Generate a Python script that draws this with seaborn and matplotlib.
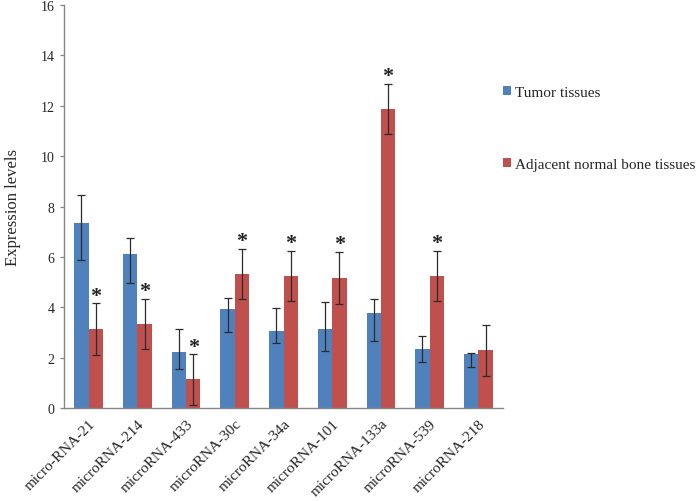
import matplotlib
matplotlib.use("Agg")
import matplotlib.pyplot as plt
import numpy as np
import pandas as pd
import seaborn as sns
from matplotlib.patches import Patch


# ---------------------------------------------------------
# Data
# ---------------------------------------------------------

categories = ["micro-RNA-21", "microRNA-214", "microRNA-433", "microRNA-30c",
              "microRNA-34a", "microRNA-101", "microRNA-133a", "microRNA-539",
              "microRNA-218"]

groups = ["Tumor tissues", "Adjacent normal bone tissues"]

tumor = [7.35, 6.11, 2.24, 3.93, 3.08, 3.16, 3.78, 2.34, 2.17]
tumor_err_low = [1.48, 1.12, 0.67, 0.92, 0.49, 0.88, 1.11, 0.52, 0.55]
tumor_err_up = [1.13, 0.65, 0.89, 0.45, 0.88, 1.06, 0.54, 0.54, 0.03]

normal = [3.14, 3.35, 1.15, 5.33, 5.24, 5.17, 11.88, 5.24, 2.30]
normal_err = [1.02, 1.00, 1.00, 1.00, 1.00, 1.04, 1.00, 1.00, 1.02]

significant = [True, True, True, True, True, True, True, True, False]

colors = {"Tumor tissues": "#4F81BD", "Adjacent normal bone tissues": "#C0504D"}
axis_grey = "#868686"


# ---------------------------------------------------------
# Plot
# ---------------------------------------------------------

def main():

    sns.set_style("white")
    plt.rcParams["font.family"] = ["Liberation Serif", "DejaVu Serif"]

    df = pd.DataFrame({
        "miRNA": categories * 2,
        "group": [groups[0]] * len(categories) + [groups[1]] * len(categories),
        "value": tumor + normal,
    })

    fig = plt.figure(figsize=(6.96, 5.02), dpi=100)
    ax = fig.add_axes([0.0924, 0.1847, 0.6299, 0.8033])

    sns.barplot(
        data=df,
        x="miRNA",
        y="value",
        hue="group",
        order=categories,
        hue_order=groups,
        palette=colors,
        saturation=1,
        width=0.59,
        errorbar=None,
        linewidth=0,
        legend=False,
        ax=ax,
    )

    # bar centres from the patches seaborn drew
    n = len(categories)
    bars = [p for p in ax.patches if p.get_height() > 0]
    bars = sorted(bars, key=lambda p: p.get_x())
    tumor_x = [b.get_x() + b.get_width() / 2 for b in bars[0::2]]
    normal_x = [b.get_x() + b.get_width() / 2 for b in bars[1::2]]

    ax.errorbar(tumor_x, tumor, yerr=[tumor_err_low, tumor_err_up],
                fmt="none", ecolor="#2b2b2b", elinewidth=0.9,
                capsize=3, capthick=0.9, zorder=5)
    ax.errorbar(normal_x, normal, yerr=normal_err,
                fmt="none", ecolor="#2b2b2b", elinewidth=0.9,
                capsize=3, capthick=0.9, zorder=5)

    for x, y, e, sig in zip(normal_x, normal, normal_err, significant):
        if sig:
            ax.text(x, y + e + 0.3, "*", ha="center", va="center",
                    fontsize=16, fontweight="bold", color="#222222")

    # axes styling
    ax.set_xlim(-0.5, n - 0.5)
    ax.set_ylim(0, 16)
    ax.set_yticks(np.arange(0, 17, 2))
    ax.set_yticklabels([str(v) for v in range(0, 17, 2)], fontsize=10)

    ax.set_xticks(range(n))
    ax.set_xticklabels(categories, rotation=45, ha="right",
                       rotation_mode="anchor", fontsize=11)
    ax.set_xticks(np.arange(-0.5, n, 1), minor=True)
    ax.tick_params(axis="x", which="major", length=0, pad=6)
    ax.tick_params(axis="x", which="minor", length=4, width=0.9,
                   color=axis_grey, direction="out")
    ax.tick_params(axis="y", length=3, width=0.9, color=axis_grey,
                   direction="out", pad=4, left=True)

    ax.set_xlabel("")
    ax.set_ylabel("Expression levels", fontsize=12, labelpad=14)

    for side in ["top", "right"]:
        ax.spines[side].set_visible(False)
    for side in ["left", "bottom"]:
        ax.spines[side].set_color(axis_grey)
        ax.spines[side].set_linewidth(1.0)

    handles = [Patch(facecolor=colors[g], edgecolor="none", label=g) for g in groups]
    fig.legend(
        handles=handles,
        loc="upper left",
        bbox_to_anchor=(0.722, 0.827),
        frameon=False,
        fontsize=11,
        handlelength=0.55,
        handleheight=0.55,
        handletextpad=0.3,
        labelspacing=3.85,
        borderpad=0,
        borderaxespad=0,
    )

    fig.savefig("out.png", dpi=100)


if __name__ == "__main__":

    main()
